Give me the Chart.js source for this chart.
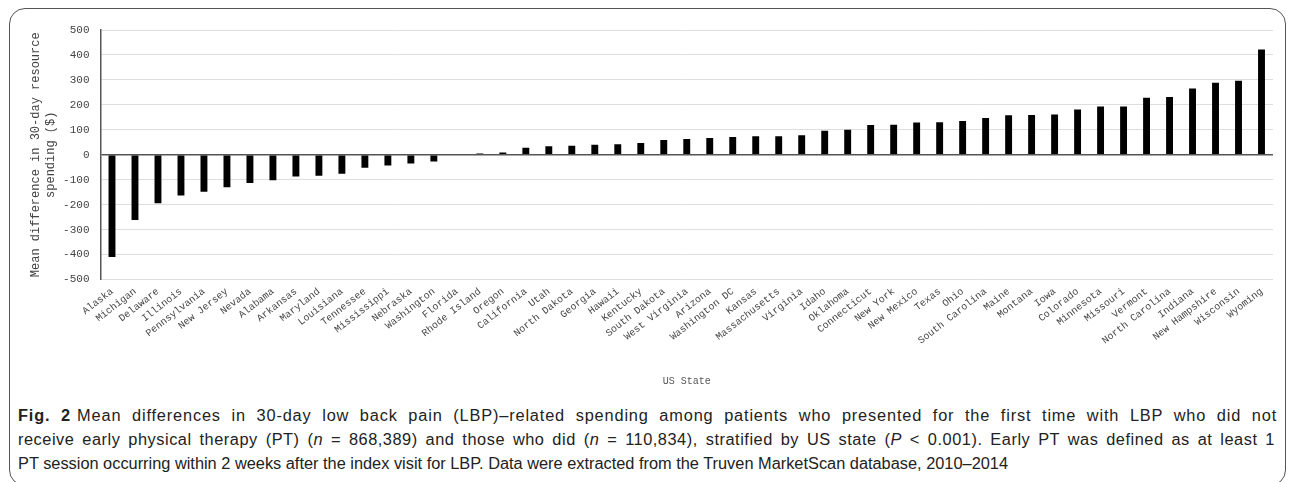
<!DOCTYPE html>
<html>
<head>
<meta charset="utf-8">
<script src="https://cdn.jsdelivr.net/npm/chart.js@4"></script>
<style>
  html, body { margin: 0; padding: 0; background: #fff; }
  #figure {
    position: absolute; left: 9px; top: 8px; width: 1277px; height: 478px;
    border: 1.5px solid #555; border-radius: 16px; box-sizing: border-box; overflow: hidden;
  }
  #chartBox { position: absolute; left: 0; top: 0; width: 1275px; height: 385px; }
  #caption {
    position: absolute; left: 8px; top: 395px;
    font-family: "Liberation Sans", Arial, sans-serif;
    font-size: 16px; line-height: 24px; color: #222;
    white-space: nowrap;
  }
  #caption .ln { display: inline-block; transform-origin: 0 50%; }
  #caption b { font-weight: bold; margin-right: 6px; }
</style>
</head>
<body>
<div id="figure">
  <div id="chartBox"><canvas id="stateChart"></canvas></div>
  <div id="caption">
    <span class="ln" data-w="1259"><b>Fig. 2</b>Mean differences in 30-day low back pain (LBP)–related spending among patients who presented for the first time with LBP who did not</span><br>
    <span class="ln" data-w="1257">receive early physical therapy (PT) (<i>n</i> = 868,389) and those who did (<i>n</i> = 110,834), stratified by US state (<i>P</i> &lt; 0.001). Early PT was defined as at least 1</span><br>
    <span class="ln" data-w="990">PT session occurring within 2 weeks after the index visit for LBP. Data were extracted from the Truven MarketScan database, 2010–2014</span>
  </div>
</div>
<script>
// Mean difference in 30-day spending by US state

const states = [
    'Alaska', 'Michigan', 'Delaware', 'Illinois', 'Pennsylvania', 'New Jersey', 'Nevada', 'Alabama',
    'Arkansas', 'Maryland', 'Louisiana', 'Tennessee', 'Mississippi', 'Nebraska', 'Washington', 'Florida',
    'Rhode Island', 'Oregon', 'California', 'Utah', 'North Dakota', 'Georgia', 'Hawaii', 'Kentucky',
    'South Dakota', 'West Virginia', 'Arizona', 'Washington DC', 'Kansas', 'Massachusetts', 'Virginia', 'Idaho',
    'Oklahoma', 'Connecticut', 'New York', 'New Mexico', 'Texas', 'Ohio', 'South Carolina', 'Maine',
    'Montana', 'Iowa', 'Colorado', 'Minnesota', 'Missouri', 'Vermont', 'North Carolina', 'Indiana',
    'New Hampshire', 'Wisconsin', 'Wyoming'
];

const meanDiff = [
    -410, -262, -194, -163, -148, -130, -113, -102,
    -87, -84, -76, -52, -43, -35, -27, 0,
    5, 9, 28, 34, 36, 40, 42, 47,
    59, 63, 67, 71, 74, 74, 78, 96,
    100, 119, 120, 129, 130, 135, 147, 158,
    159, 161, 181, 193, 193, 228, 231, 266,
    289, 297, 422
];

const yMin = -500;
const yMax = 500;
const yStep = 100;

const monoFont = '"Liberation Mono", "Courier New", monospace';

const ctx = document.getElementById('stateChart').getContext('2d');

new Chart(ctx, {
    type: 'bar',
    data: {
        labels: states,
        datasets: [{
            data: meanDiff,
            backgroundColor: '#000000',
            borderWidth: 0,
            barPercentage: 0.6,
            categoryPercentage: 0.5
        }]
    },
    options: {
        responsive: true,
        maintainAspectRatio: false,
        animation: false,
        layout: { padding: { top: 21, right: 12, left: 19, bottom: 0 } },
        plugins: {
            legend: { display: false },
            tooltip: { enabled: false }
        },
        scales: {
            x: {
                grid: { display: false, drawTicks: false },
                border: { display: false },
                afterFit: scale => { scale.height = 114.5; },
                ticks: {
                    autoSkip: false,
                    minRotation: 38,
                    maxRotation: 38,
                    padding: 6,
                    color: '#444',
                    font: { family: monoFont, size: 10 }
                },
                title: {
                    display: true,
                    text: 'US State',
                    color: '#555',
                    font: { family: monoFont, size: 10 },
                    padding: { top: 4, bottom: 7 }
                }
            },
            y: {
                min: yMin,
                max: yMax,
                afterFit: scale => { scale.width = 71.5; },
                grid: {
                    drawTicks: false,
                    lineWidth: ctx => ctx.tick && ctx.tick.value === 0 ? 1.5 : 1,
                    color: ctx => ctx.tick && ctx.tick.value === 0 ? '#555' : '#dedede'
                },
                border: { display: true, color: '#555', width: 1.5 },
                ticks: {
                    stepSize: yStep,
                    padding: 11,
                    color: '#444',
                    font: { family: monoFont, size: 11 }
                },
                title: {
                    display: true,
                    text: ['Mean difference in 30-day resource', 'spending ($)'],
                    color: '#444',
                    font: { family: monoFont, size: 12, lineHeight: 1.2 },
                    padding: { top: 0, bottom: 0 }
                }
            }
        }
    }
});

// caption is justified in print: the last line sets the glyph squeeze,
// the first two lines are spread (half letters, half words) to full width
const captionLines = Array.from(document.querySelectorAll('#caption .ln'));
const lastLine = captionLines[captionLines.length - 1];
const squeeze = Number(lastLine.dataset.w) / lastLine.getBoundingClientRect().width;
captionLines.forEach((el, i) => {
    if (i < captionLines.length - 1) {
        const text = el.textContent.trim();
        const natural = el.getBoundingClientRect().width;
        const spaces = text.split(/\s+/).length - 1;
        const extra = Number(el.dataset.w) / squeeze - natural;
        el.style.letterSpacing = (extra / 2 / text.length) + 'px';
        el.style.wordSpacing = (extra / 2 / spaces) + 'px';
    }
    el.style.transform = `scaleX(${squeeze})`;
});
</script>
</body>
</html>
